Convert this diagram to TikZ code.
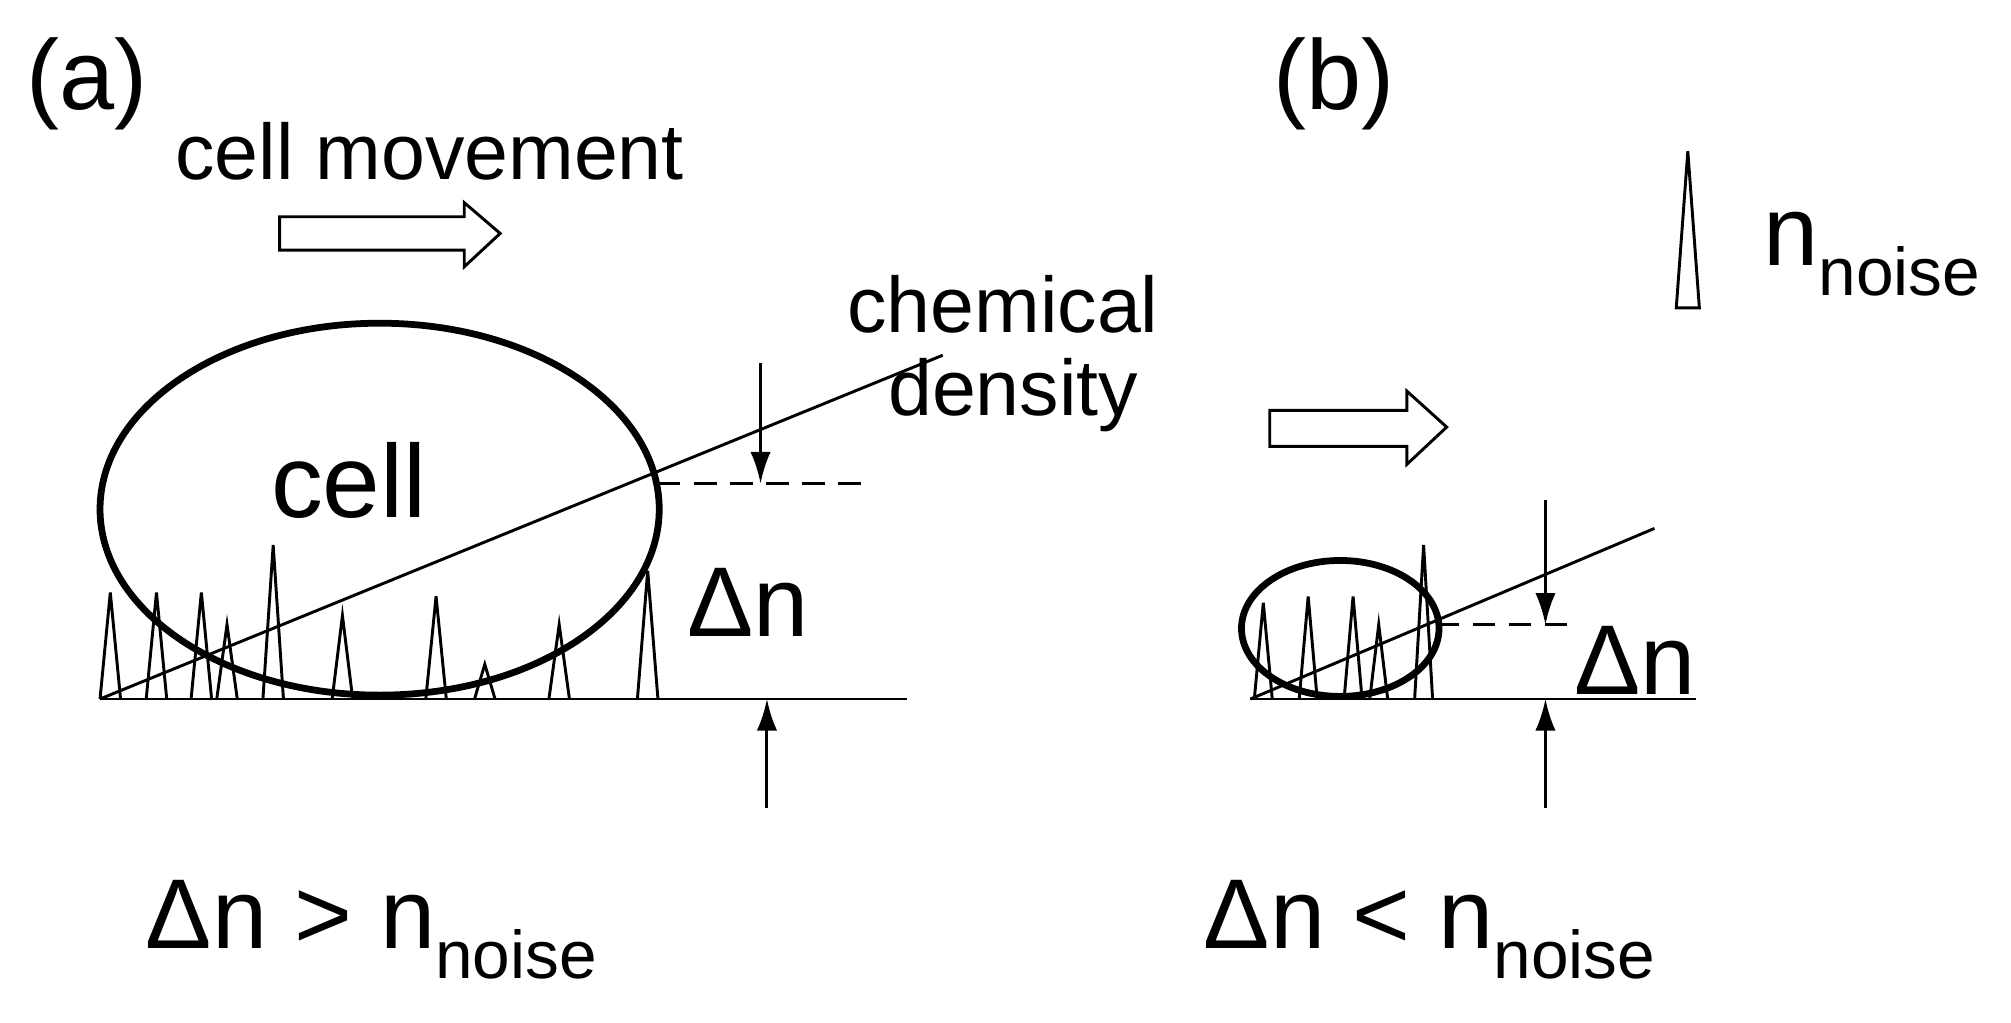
\documentclass[tikz,border=0pt]{standalone}
\usepackage{fontspec}
\setmainfont{Liberation Sans}
\usetikzlibrary{arrows.meta}
\newcommand{\nsub}{n\textsubscript{\fontsize{30}{34}\selectfont noise}}
\begin{document}
\begin{tikzpicture}[x=0.02cm,y=-0.02cm,
  thin/.style={line width=1.3pt},
  thick2/.style={line width=3pt},
  hol/.style={line width=1.3pt,fill=white},
  t35/.style={font=\fontsize{35}{42}\selectfont},
  t42/.style={font=\fontsize{44}{50}\selectfont},
  t50/.style={font=\fontsize{46}{52}\selectfont},
  arr/.style={line width=1.3pt,-{Latex[length=14pt,width=9pt]}}]
\useasboundingbox (0,0) rectangle (1568,797);
% (a)
\node[t42] (la) at (68,65) {(a)};
\node[t35] (cm) at (335,118) {cell movement};
\draw[hol] (218,169) -- (362,169) -- (362,158) -- (390,182) -- (362,208) -- (362,195) -- (218,195) -- cycle;
\foreach \x/\y in {86/462,122/462,157/462,177/487,213/425,267/480,340/465,378/518,436/487,505/445}
  \draw[thin] (\x-8,545) -- (\x,\y) -- (\x+8,545);
\draw[thick2] (296,397) ellipse [x radius=218,y radius=145];
\node[t50] (cell) at (272,375) {cell};
\coordinate (a0) at (78,545);
\coordinate (a1) at (707,545);
\coordinate (a2) at (735,277);
\draw[thin] (a0) -- (a1);
\draw[thin] (a0) -- (a2);
\node[t35] (chem1) at (782,237) {chemical};
\node[t35] (chem2) at (790,308) {density};
\draw[thin,dash pattern=on 10pt off 6pt] (513,377) -- (680,377);
\coordinate (ad1) at (593,283); \coordinate (ad2) at (593,377);
\coordinate (au1) at (598,630); \coordinate (au2) at (598,545);
\draw[arr] (ad1) -- (ad2);
\draw[arr] (au1) -- (au2);
\node[t42] (dna) at (583,470) {Δn};
\node[t42] (ra) at (290,725) {Δn > \nsub};
% (b)
\node[t42] (lb) at (1040,65) {(b)};
\draw[thin] (1307,240) -- (1316,118) -- (1325,240) -- cycle;
\node[t42] (nn) at (1460,198) {\nsub};
\draw[hol] (990,320) -- (1097,320) -- (1097,305) -- (1128,333) -- (1097,362) -- (1097,348) -- (990,348) -- cycle;
\foreach \x/\y in {985/470,1020/465,1055/465,1075/487,1110/425}
  \draw[thin] (\x-7,545) -- (\x,\y) -- (\x+7,545);
\draw[thick2] (1045,490) ellipse [x radius=77,y radius=53];
\coordinate (b0) at (975,545);
\coordinate (b1) at (1322,545);
\coordinate (b2) at (1290,412);
\draw[thin] (b0) -- (b1);
\draw[thin] (b0) -- (b2);
\draw[thin,dash pattern=on 10pt off 6pt] (1120,487) -- (1232,487);
\coordinate (bd1) at (1205,390); \coordinate (bd2) at (1205,487);
\coordinate (bu1) at (1205,630); \coordinate (bu2) at (1205,545);
\draw[arr] (bd1) -- (bd2);
\draw[arr] (bu1) -- (bu2);
\node[t42] (dnb) at (1275,515) {Δn};
\node[t42] (rb) at (1115,725) {Δn < \nsub};
\end{tikzpicture}
\end{document}
